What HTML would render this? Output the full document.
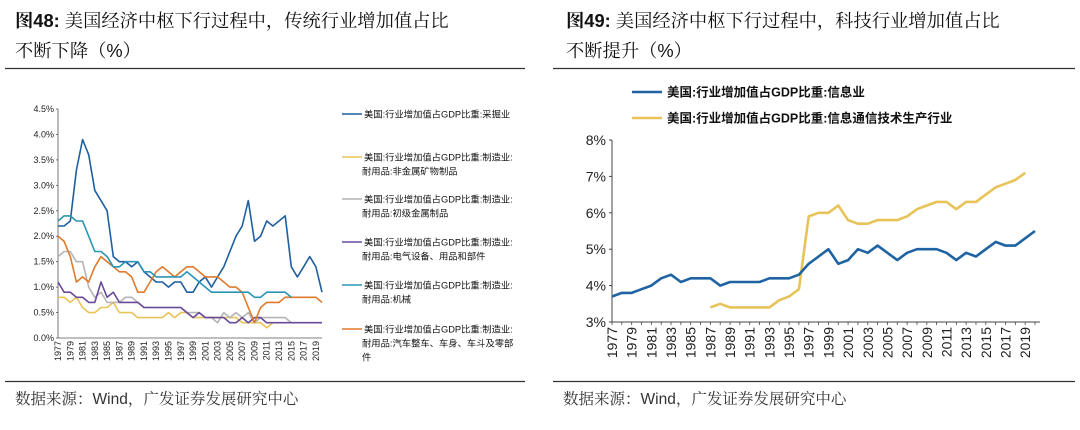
<!DOCTYPE html>
<html><head><meta charset="utf-8">
<style>
body{margin:0;background:#fff;width:1080px;height:430px;overflow:hidden;font-family:"Liberation Sans","Noto Sans CJK SC",sans-serif;}
svg{display:block}
.t{font-family:"Liberation Sans","Noto Serif CJK SC","Noto Sans CJK SC",sans-serif;font-size:18.3px;fill:#111}
.src{font-family:"Liberation Sans","Noto Serif CJK SC","Noto Sans CJK SC",sans-serif;font-size:15.5px;fill:#333}
.ax{font-size:9px;fill:#222}
.axr{font-size:14px;fill:#222}
.lg{font-size:9.3px;fill:#111;font-family:"Liberation Sans","Noto Sans CJK SC",sans-serif}
.lgr{font-size:12.5px;fill:#111;font-weight:bold;font-family:"Liberation Sans","Noto Sans CJK SC",sans-serif}
</style></head><body>
<svg id="s" width="1080" height="430">
<text class="t" x="15" y="27"><tspan font-weight="bold">图48:</tspan> 美国经济中枢下行过程中，传统行业增加值占比</text>
<text class="t" x="15" y="57">不断下降（%）</text>
<text class="t" x="566" y="27"><tspan font-weight="bold">图49:</tspan> 美国经济中枢下行过程中，科技行业增加值占比</text>
<text class="t" x="566" y="57">不断提升（%）</text>
<line x1="5" y1="68.5" x2="525" y2="68.5" stroke="#333" stroke-width="1.2"/>
<line x1="553" y1="68.5" x2="1075" y2="68.5" stroke="#333" stroke-width="1.2"/>
<line x1="5" y1="381.5" x2="525" y2="381.5" stroke="#333" stroke-width="1.2"/>
<line x1="553" y1="381.5" x2="1075" y2="381.5" stroke="#333" stroke-width="1.2"/>
<text class="src" x="15" y="404">数据来源：Wind，广发证券发展研究中心</text>
<text class="src" x="563" y="404">数据来源：Wind，广发证券发展研究中心</text>
<g id="L"></g><g id="R"></g>
</svg>
<script>
const years = [];for(let y=1977;y<=2020;y++)years.push(y);
const leftYTicks=[0,0.5,1,1.5,2,2.5,3,3.5,4,4.5];
const mining=[2.2,2.2,2.3,3.3,3.9,3.6,2.9,2.7,2.5,1.6,1.5,1.5,1.4,1.5,1.3,1.2,1.1,1.1,1.0,1.1,1.1,0.9,0.9,1.1,1.2,1.0,1.2,1.4,1.7,2.0,2.2,2.7,1.9,2.0,2.3,2.2,2.3,2.4,1.4,1.2,1.4,1.6,1.4,0.9];
const nonmetal=[0.8,0.8,0.7,0.8,0.6,0.5,0.5,0.6,0.6,0.7,0.5,0.5,0.5,0.4,0.4,0.4,0.4,0.4,0.5,0.4,0.5,0.5,0.4,0.4,0.4,0.4,0.4,0.4,0.4,0.4,0.3,0.3,0.3,0.3,0.2,0.3,null,null,null,null,null,null,null,null];
const metals=[1.6,1.7,1.7,1.5,1.5,1.0,0.8,0.9,0.7,0.7,0.7,0.8,0.8,0.7,0.6,0.6,0.6,0.6,0.6,0.6,0.6,0.5,0.5,0.5,0.4,0.4,0.3,0.5,0.4,0.5,0.4,0.5,0.3,0.4,0.4,0.4,0.4,0.4,0.3,null,null,null,null,null];
const electrical=[1.1,0.9,0.9,0.8,0.8,0.7,0.7,1.1,0.8,0.9,0.7,0.7,0.7,0.7,0.6,0.6,0.6,0.6,0.6,0.6,0.6,0.5,0.4,0.5,0.4,0.4,0.4,0.4,0.3,0.3,0.4,0.3,0.4,0.4,0.3,0.3,0.3,0.3,0.3,0.3,0.3,0.3,0.3,0.3];
const machinery=[2.3,2.4,2.4,2.3,2.3,2.0,1.7,1.7,1.6,1.4,1.4,1.5,1.5,1.5,1.3,1.3,1.2,1.2,1.2,1.2,1.2,1.3,1.2,1.1,1.0,0.9,0.9,0.9,0.9,0.9,0.9,0.9,0.8,0.8,0.9,0.9,0.9,0.9,0.8,null,null,null,null,null];
const autos=[2.0,1.9,1.6,1.1,1.2,1.1,1.4,1.6,1.5,1.4,1.3,1.3,1.2,0.9,0.9,1.1,1.3,1.4,1.3,1.2,1.3,1.4,1.4,1.3,1.2,1.2,1.2,1.1,1.0,1.0,0.9,0.6,0.3,0.6,0.7,0.7,0.7,0.8,0.8,0.8,0.8,0.8,0.8,0.7];
const rightYTicks=[3,4,5,6,7,8];
const infoIndustry=[3.7,3.8,3.8,3.9,4.0,4.2,4.3,4.1,4.2,4.2,4.2,4.0,4.1,4.1,4.1,4.1,4.2,4.2,4.2,4.3,4.6,4.8,5.0,4.6,4.7,5.0,4.9,5.1,4.9,4.7,4.9,5.0,5.0,5.0,4.9,4.7,4.9,4.8,5.0,5.2,5.1,5.1,5.3,5.5];
const ictProduction=[null,null,null,null,null,null,null,null,null,null,3.4,3.5,3.4,3.4,3.4,3.4,3.4,3.6,3.7,3.9,5.9,6.0,6.0,6.2,5.8,5.7,5.7,5.8,5.8,5.8,5.9,6.1,6.2,6.3,6.3,6.1,6.3,6.3,6.5,6.7,6.8,6.9,7.1,null];
const leftNames=["美国:行业增加值占GDP比重:采掘业","美国:行业增加值占GDP比重:制造业:|耐用品:非金属矿物制品","美国:行业增加值占GDP比重:制造业:|耐用品:初级金属制品","美国:行业增加值占GDP比重:制造业:|耐用品:电气设备、用品和部件","美国:行业增加值占GDP比重:制造业:|耐用品:机械","美国:行业增加值占GDP比重:制造业:|耐用品:汽车整车、车身、车斗及零部|件"];
const rightNames=["美国:行业增加值占GDP比重:信息业","美国:行业增加值占GDP比重:信息通信技术生产行业"];
const NS="http://www.w3.org/2000/svg";
function mk(p,tag,a){const e=document.createElementNS(NS,tag);for(const k in a)e.setAttribute(k,a[k]);p.appendChild(e);return e;}
function pathD(vals,xf,yf){let d="",pen=false;vals.forEach((v,i)=>{if(v==null){pen=false;return;}d+=(pen?"L":"M")+xf(i).toFixed(1)+","+yf(v).toFixed(1);pen=true;});return d;}

// LEFT
const L=document.getElementById('L');
const lx0=58,lx1=322,ly0=338,ly1=109;
const lxf=i=>lx0+(lx1-lx0)*i/(years.length-1);
const lyf=v=>ly0-(ly0-ly1)*v/4.5;
let ax=mk(L,'line',{x1:lx0,y1:ly1,x2:lx0,y2:ly0,stroke:'#555','stroke-width':0.8});

ax=mk(L,'line',{x1:lx0,y1:ly0,x2:lx1,y2:ly0,stroke:'#555','stroke-width':0.8});

leftYTicks.forEach(v=>{const t=mk(L,'text',{x:lx0-4,y:lyf(v)+3,'text-anchor':'end',class:'ax'});t.textContent=v.toFixed(1)+'%';

mk(L,'line',{x1:lx0-2,y1:lyf(v),x2:lx0,y2:lyf(v),stroke:'#555','stroke-width':0.8});});
years.forEach((y,i)=>{if(i%2)return;const x=lxf(i);const t=mk(L,'text',{x:0,y:0,'text-anchor':'end',class:'ax',transform:`translate(${x+3},${ly0+3}) rotate(-90)`});t.textContent=y;
});
const lSeries=[mining,nonmetal,metals,electrical,machinery,autos];
const lColors=['#1f5fa0','#e8c35a','#b5b5b5','#6a4a9a','#2b95b5','#e07a2c'];
const lDraw=[0,1,2,3,5,4];
lDraw.forEach(k=>{const p=mk(L,'path',{d:pathD(lSeries[k],lxf,lyf),fill:'none',stroke:lColors[k],'stroke-width':1.6,'stroke-linejoin':'round'});
});
const lgY=[114,157,199,242,285,329];
leftNames.forEach((n,k)=>{const l=mk(L,'line',{x1:342,y1:lgY[k],x2:362,y2:lgY[k],stroke:lColors[k],'stroke-width':1.6});

n.split('|').forEach((s,j)=>{const t=mk(L,'text',{x:j?362:364,y:lgY[k]+3.5+j*14,class:'lg'});t.textContent=s;
});});

// RIGHT
const R=document.getElementById('R');
const rx0=612,rx1=1035,ry0=322,ry1=140;
const rxf=i=>rx0+(rx1-rx0)*i/(years.length-1);
const ryf=v=>ry0-(ry0-ry1)*(v-3)/5;
ax=mk(R,'line',{x1:rx0,y1:ry1,x2:rx0,y2:ry0,stroke:'#444','stroke-width':1});

ax=mk(R,'line',{x1:rx0,y1:ry0,x2:rx1+5,y2:ry0,stroke:'#444','stroke-width':1});

rightYTicks.forEach(v=>{const t=mk(R,'text',{x:rx0-6,y:ryf(v)+5,'text-anchor':'end',class:'axr'});t.textContent=v+'%';

mk(R,'line',{x1:rx0-3,y1:ryf(v),x2:rx0,y2:ryf(v),stroke:'#444','stroke-width':1});});
years.forEach((y,i)=>{const x=rxf(i);mk(R,'line',{x1:x,y1:ry0,x2:x,y2:ry0+3,stroke:'#444','stroke-width':0.8});
if(i%2)return;const t=mk(R,'text',{x:0,y:0,'text-anchor':'end',class:'axr',transform:`translate(${x+5},${ry0+5}) rotate(-90)`});t.textContent=y;
});
const rSeries=[infoIndustry,ictProduction];const rColors=['#1f63a3','#e8c35a'];
[1,0].forEach(k=>{const p=mk(R,'path',{d:pathD(rSeries[k],rxf,ryf),fill:'none',stroke:rColors[k],'stroke-width':2.6,'stroke-linejoin':'round'});
});
const rlgY=[92,118];
rightNames.forEach((n,k)=>{const l=mk(R,'line',{x1:632,y1:rlgY[k],x2:662,y2:rlgY[k],stroke:rColors[k],'stroke-width':2.6});

const t=mk(R,'text',{x:667,y:rlgY[k]+4.5,class:'lgr'});t.textContent=n;
});
</script>
</body></html>
